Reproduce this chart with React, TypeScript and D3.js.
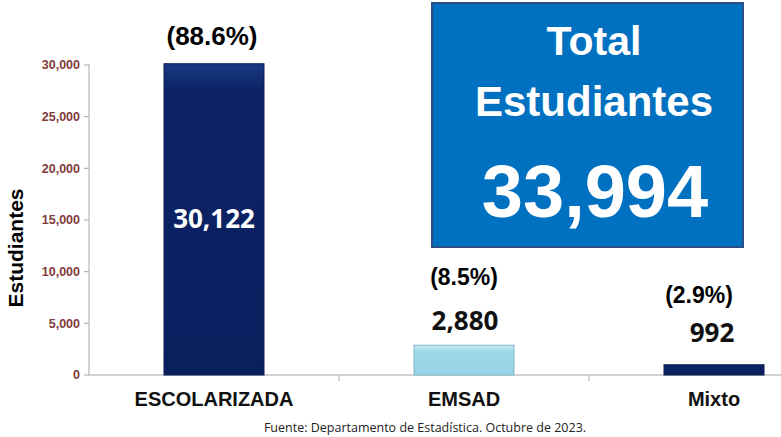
import React from "react";
import * as d3 from "d3";

const categories = ["ESCOLARIZADA", "EMSAD", "Mixto"];
const values = [30122, 2880, 992];
const valueLabels = ["30,122", "2,880", "992"];
const percentLabels = ["(88.6%)", "(8.5%)", "(2.9%)"];
const yTicks = [0, 5000, 10000, 15000, 20000, 25000, 30000];
const totalLabel = "33,994";

const W = 781;
const H = 437;
const margin = { top: 65, left: 89, bottom: 62 };
const plotBottom = H - margin.bottom; // 375

const App = () => {
  const x = d3
    .scaleBand<string>()
    .domain(categories)
    .range([margin.left, margin.left + 750])
    .paddingInner(0.6)
    .paddingOuter(0.3);
  const y = d3.scaleLinear().domain([0, 30000]).range([plotBottom, margin.top]);
  const fmt = d3.format(",");
  const fills = ["url(#navy)", "url(#sky)", "url(#navy)"];
  const bold = "Liberation Sans, Arial, sans-serif";

  // label placement per category
  const pctY = [45, 285, 303];
  const pctDx = [-2, 0, -15];
  const pctSize = [26, 23, 23];
  const valY = [228, 330, 342];
  const valDx = [0, 1, -2];

  return (
    <svg width={W} height={H} style={{ position: "absolute", left: 0, top: 0 }}>
      <defs>
        <linearGradient id="navy" x1="0" x2="0" y1="0" y2="1">
          <stop offset="0" stopColor="#1a3a86" />
          <stop offset="0.08" stopColor="#0c2466" />
          <stop offset="1" stopColor="#0a1f5e" />
        </linearGradient>
        <linearGradient id="sky" x1="0" x2="0" y1="0" y2="1">
          <stop offset="0" stopColor="#c4ecf5" />
          <stop offset="0.2" stopColor="#9fd9ea" />
          <stop offset="1" stopColor="#96d3e6" />
        </linearGradient>
      </defs>
      <rect width={W} height={H} fill="#fff" />

      {/* y axis */}
      <line x1={margin.left} x2={margin.left} y1={margin.top - 1} y2={plotBottom} stroke="#a6a6a6" />
      {yTicks.map((t) => (
        <g key={t}>
          <line x1={margin.left - 5} x2={margin.left} y1={y(t)} y2={y(t)} stroke="#a6a6a6" />
          <text
            x={margin.left - 9}
            y={y(t)}
            dy="0.35em"
            textAnchor="end"
            fontFamily={bold}
            fontWeight="bold"
            fontSize={12.5}
            fill="#7f3a3a"
          >
            {fmt(t)}
          </text>
        </g>
      ))}
      <text
        transform={`translate(23,248) rotate(-90)`}
        textAnchor="middle"
        fontFamily={bold}
        fontWeight="bold"
        fontSize={21}
      >
        Estudiantes
      </text>

      {/* x axis */}
      <line x1={margin.left} x2={W} y1={plotBottom} y2={plotBottom} stroke="#a6a6a6" />
      {categories.map((c) => {
        const edge = (x(c) as number) + x.bandwidth() + (x.step() * 0.6) / 2;
        return <line key={c} x1={edge} x2={edge} y1={plotBottom} y2={plotBottom + 6} stroke="#a6a6a6" />;
      })}

      {/* bars */}
      {categories.map((c, i) => (
        <rect
          key={c}
          x={x(c)}
          y={y(values[i])}
          width={x.bandwidth()}
          height={plotBottom - y(values[i])}
          fill={fills[i]}
          stroke={i === 1 ? "#7fb8c9" : "#0a1c50"}
          strokeWidth={1}
        />
      ))}

      {/* labels */}
      {categories.map((c, i) => {
        const cx = (x(c) as number) + x.bandwidth() / 2;
        return (
          <g key={c} fontFamily={bold} fontWeight="bold" textAnchor="middle">
            <text x={cx + pctDx[i]} y={pctY[i]} fontSize={pctSize[i]} fill="#000">
              {percentLabels[i]}
            </text>
            <text
              x={cx + valDx[i]}
              y={valY[i]}
              fontSize={26}
              fontFamily="Open Sans, sans-serif"
              fontWeight="bold"
              fill={i === 0 ? "#fff" : "#111"}
            >
              {valueLabels[i]}
            </text>
            <text x={cx} y={406} fontSize={20} fill="#111">
              {c}
            </text>
          </g>
        );
      })}

      {/* total box */}
      <rect x={432} y={3} width={311} height={244} fill="#0070c0" stroke="#2a4f86" strokeWidth={2} />
      <g fill="#fff" fontFamily={bold} fontWeight="bold" textAnchor="middle">
        <text x={594} y={55} fontSize={41}>Total</text>
        <text x={594} y={116} fontSize={42}>Estudiantes</text>
        <text x={595} y={217} fontSize={74}>{totalLabel}</text>
      </g>

      <text x={425} y={432} textAnchor="middle" fontFamily="Open Sans, Noto Sans, sans-serif" fontSize={12.5} fill="#222">
        Fuente: Departamento de Estadística. Octubre de 2023.
      </text>
    </svg>
  );
};

export default App;
